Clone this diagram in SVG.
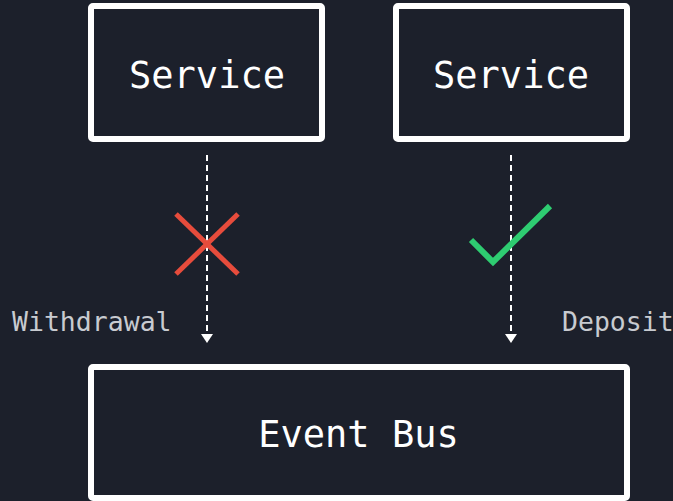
<svg xmlns="http://www.w3.org/2000/svg" width="673" height="501" viewBox="0 0 673 501">
<style>
.box{fill:#1c202b;stroke:#ffffff;stroke-width:6}
.big{font-family:"DejaVu Sans Mono","Liberation Mono",monospace;font-size:37px;fill:#ffffff;text-anchor:middle}
.lbl{font-family:"DejaVu Sans Mono","Liberation Mono",monospace;font-size:26.5px;fill:#c8cbd0}
.flow{stroke:#ffffff;stroke-width:2;stroke-dasharray:6 4;fill:none}
</style>
<defs>
<marker id="ah" viewBox="0 0 9 12" refX="9" refY="6" markerWidth="9" markerHeight="12" markerUnits="userSpaceOnUse" orient="auto">
<path d="M0,0 L9,6 L0,12 Z" fill="#ffffff"/>
</marker>
</defs>
<rect width="673" height="501" fill="#1c202b"/>
<g id="service1"><rect class="box" x="91" y="6" width="231" height="133" rx="2"/><text class="big" x="207" y="88">Service</text></g>
<g id="service2"><rect class="box" x="396" y="6" width="231" height="133" rx="2"/><text class="big" x="511" y="88">Service</text></g>
<g id="eventbus"><rect class="box" x="91" y="367" width="536" height="131" rx="2"/><text class="big" x="358.5" y="447">Event Bus</text></g>
<g id="connectors">
<path class="flow" d="M207,155 V343" marker-end="url(#ah)"/>
<path class="flow" d="M511,155 V343" marker-end="url(#ah)"/>
<text class="lbl" x="12" y="331">Withdrawal</text>
<text class="lbl" x="562" y="331">Deposit</text>
</g>
<g id="cross" stroke="#e74c3c" stroke-width="5" fill="none">
<line x1="176" y1="214" x2="238" y2="274"/>
<line x1="238" y1="214" x2="176" y2="274"/>
</g>
<g id="check"><path d="M471,240 L493,262 L550,206" stroke="#2ecc71" stroke-width="6" fill="none"/></g>
</svg>
